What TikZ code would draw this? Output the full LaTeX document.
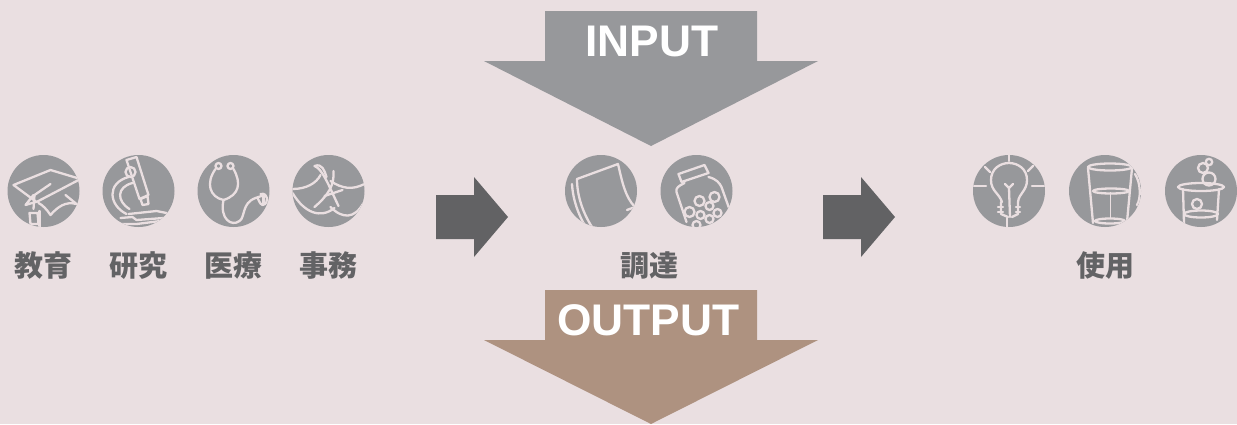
\documentclass[tikz,border=0pt]{standalone}
\usepackage{fontspec}
\setmainfont{Liberation Sans}
\newfontfamily\cjk{Noto Sans CJK JP}
\usetikzlibrary{positioning}
\definecolor{paper}{HTML}{EADFE1}
\definecolor{badgegray}{HTML}{97989B}
\definecolor{darkgray}{HTML}{626264}
\definecolor{labelgray}{HTML}{636365}
\definecolor{outbrown}{HTML}{AE9280}
\begin{document}
\begin{tikzpicture}[x=1pt,y=-1pt]
\tikzstyle{badge}=[shape=circle,fill=badgegray,inner sep=0pt,minimum size=72pt]
\tikzstyle{word}=[font=\cjk\bfseries\fontsize{29}{31}\selectfont,text=labelgray,inner sep=0pt]
\tikzstyle{banner}=[font=\bfseries\fontsize{44.3}{47}\selectfont,text=white,inner sep=0pt]
\tikzstyle{ink}=[draw=paper,line width=2.3pt,line cap=round,line join=round]
\tikzstyle{thinink}=[draw=paper,line width=0.8pt]

\useasboundingbox (0,0) rectangle (1237,424);
\fill[paper] (0,0) rectangle (1237,424);

\fill[badgegray] (545,11) -- (757,11) -- (757,61) -- (818,61) -- (651,146) -- (484,61) -- (545,61) -- cycle;
\fill[outbrown] (545,290) -- (757,290) -- (757,340) -- (818,340) -- (651,424) -- (484,340) -- (545,340) -- cycle;
\fill[darkgray] (436,195) -- (474,195) -- (474,177) -- (508,217) -- (474,257) -- (474,239) -- (436,239) -- cycle;
\fill[darkgray] (823,195) -- (861,195) -- (861,177) -- (895,217) -- (861,257) -- (861,239) -- (823,239) -- cycle;

\node[banner] (input) at (652,41.5) {INPUT};
\node[banner] (output) at (648.5,320.5) {OUTPUT};

\node[badge] (edu) at (43.5,191) {};
\node[badge] (lab) [right of=edu,node distance=95pt] {};
\node[badge] (med) [right of=lab,node distance=95pt] {};
\node[badge] (off) [right of=med,node distance=95pt] {};
\node[badge] (book) at (601,191) {};
\node[badge] (jar) [right of=book,node distance=95.5pt] {};
\node[badge] (bulb) at (1009,191) {};
\node[badge] (glass) [right of=bulb,node distance=96pt] {};
\node[badge] (flask) [right of=glass,node distance=96pt] {};

\node[word] (eduword) [below of=edu,node distance=75pt] {教育};
\node[word] (labword) [below of=lab,node distance=75pt] {研究};
\node[word] (medword) [below of=med,node distance=75pt] {医療};
\node[word] (offword) [below of=off,node distance=75pt] {事務};
\node[word] (buyword) at (649,266) {調達};
\node[word] (useword) [below of=glass,node distance=75pt] {使用};

\begin{scope}[shift={(edu)}]
\clip (0,0) circle (36pt);
\draw[ink] (-30,-6) -- (7,-21) -- (37,-12) -- (-7,11) -- cycle;
\draw[ink] (7,-7) -- (-9,4) -- (-10,18);
\draw[ink] (-10,4) -- (-18,14) -- (-8,11);
\draw[ink] (22,4) -- (33,13) .. controls (22,10) and (14,16) .. (7,24) .. controls (3,18) and (-1,14) .. (-5,12);
\draw[ink] (-14,22) -- (-6,22) -- (-5,33) -- (-13,33) -- cycle;
\draw[ink] (-4,36) -- (-4,20);
\end{scope}

\begin{scope}[shift={(lab)}]
\clip (0,0) circle (36pt);
\draw[ink] (-12,-31) -- (-2,-34) -- (10,4) -- (1,8) -- cycle;
\draw[ink] (2,8) -- (9,5) -- (10,13) -- (4,14) -- cycle;
\draw[ink] (-8,-19) circle (5pt);
\draw[ink] (-10,-14) .. controls (-32,-8) and (-30,14) .. (-12,23);
\draw[ink] (-6,-8) .. controls (-22,-4) and (-22,10) .. (-9,18);
\draw[ink] (-10,23) -- (18,20) -- (28,22);
\draw[ink] (-18,27) -- (-6,26) -- (-2,29) -- (25,27);
\draw[ink] (-18,33) -- (-2,33) -- (22,30);
\end{scope}

\begin{scope}[shift={(med)}]
\clip (0,0) circle (36pt);
\draw[ink] (-15,-25) circle (3pt);
\draw[ink] (-3,-25) circle (3pt);
\draw[ink] (-18,-22) .. controls (-28,-8) and (-24,6) .. (-10,9);
\draw[ink] (0,-22) .. controls (8,-8) and (6,4) .. (-10,9);
\draw[ink] (-10,9) .. controls (-14,28) and (-2,36) .. (6,30) .. controls (12,26) and (8,12) .. (22,7) -- (28,5);
\draw[ink] (27,3) .. controls (35,1) and (36,13) .. (29,14) .. controls (26,13) and (25,8) .. (24,7);
\draw[ink] (30,4) -- (30,13);
\end{scope}

\begin{scope}[shift={(off)}]
\clip (0,0) circle (36pt);
\draw[ink] (-36,-2) .. controls (-22,-2) and (-12,-8) .. (-8,-16);
\draw[ink] (36,-7) .. controls (24,-1) and (14,-2) .. (2,-10);
\draw[ink] (-36,2) .. controls (-24,22) and (-8,28) .. (6,17);
\draw[ink] (35,12) .. controls (26,28) and (14,28) .. (2,16);
\draw[ink] (-14,-25) .. controls (-6,-22) and (0,-6) .. (10,15);
\draw[ink] (-14,-25) .. controls (-6,-28) and (-4,-20) .. (-2,-14);
\draw[ink] (5,-20) .. controls (6,-6) and (0,4) .. (-14,16);
\draw[ink] (-4,5) -- (14,-1);
\end{scope}

\begin{scope}[shift={(book)}]
\clip (0,0) circle (36pt);
\draw[ink] (-24,-12) -- (17,-27) .. controls (21,-10) and (24,6) .. (34,16);
\draw[ink] (-24,-12) .. controls (-24,5) and (-18,22) .. (-9,36);
\draw[ink] (-29,-7) .. controls (-28,10) and (-22,24) .. (-17,33);
\draw[ink] (34,16) -- (26,19);
\end{scope}

\begin{scope}[shift={(jar)}]
\clip (0,0) circle (36pt);
\draw[ink] (-18,-17) -- (8,-26) -- (12,-18) -- (-15,-9) -- cycle;
\draw[ink] (-12,-8) .. controls (-18,-5) and (-21,-3) .. (-20,1) -- (-10,31);
\draw[ink] (12,-14) .. controls (20,-12) and (23,-8) .. (25,-4) -- (35,24);
\draw[ink] (3,10) circle (5pt);
\draw[ink] (18,6) circle (5pt);
\draw[ink] (-7,21) circle (5pt);
\draw[ink] (4,24) circle (4pt);
\draw[ink] (13,15) circle (4pt);
\draw[ink] (13,28) circle (4pt);
\draw[ink] (21,22) circle (4pt);
\draw[ink] (0,34) circle (4pt);
\end{scope}

\begin{scope}[shift={(bulb)}]
\clip (0,0) circle (36pt);
\draw[ink] (-7,11) .. controls (-10,2) and (-18,0) .. (-18,-11) .. controls (-18,-22) and (-9,-28) .. (0,-28) .. controls (9,-28) and (18,-22) .. (18,-11) .. controls (18,0) and (10,2) .. (9,11);
\draw[ink] (-8,11) -- (-8,23) -- (-1,26);
\draw[ink] (9,11) -- (9,23) -- (3,26);
\draw[ink] (-11,16) -- (-6,16);
\draw[ink] (7,16) -- (11,16);
\draw[ink] (-11,21) -- (-6,21);
\draw[ink] (7,21) -- (11,21);
\draw[ink] (-4,-7) -- (0,-3) -- (4,-7);
\draw[ink] (0,-3) -- (1,26);
\draw[ink] (0,-36) -- (0,-30);
\draw[ink] (-24,-24) -- (-19,-19);
\draw[ink] (24,-25) -- (19,-20);
\draw[ink] (-36,-5) -- (-23,-5);
\draw[ink] (23,-5) -- (36,-5);
\draw[ink] (-2,27) -- (-2,36);
\end{scope}

\begin{scope}[shift={(glass)}]
\clip (0,0) circle (36pt);
\draw[ink] (5,-24) ellipse (22pt and 3.5pt);
\draw[ink] (-17,-23) -- (-12,32);
\draw[ink] (27,-23) -- (22,31);
\draw[ink] (6,0) ellipse (18pt and 2.5pt);
\draw[ink] (5,30) ellipse (15pt and 2.5pt);
\draw[thinink] (5,1) -- (5,28);
\draw[ink] (30,-17) .. controls (36,-8) and (36,8) .. (32,14);
\end{scope}

\begin{scope}[shift={(flask)}]
\clip (0,0) circle (36pt);
\draw[ink] (0,-4) ellipse (23pt and 4pt);
\draw[ink] (-18,-2) -- (-17,32);
\draw[ink] (18,-2) -- (16,29);
\draw[ink] (0,23) ellipse (17pt and 3.5pt);
\draw[ink] (-4,13) circle (5pt);
\draw[ink] (8,-12) circle (6.5pt);
\draw[ink] (2,-23) circle (5pt);
\draw[ink] (8,-29) circle (3.2pt);
\end{scope}
\end{tikzpicture}
\end{document}
